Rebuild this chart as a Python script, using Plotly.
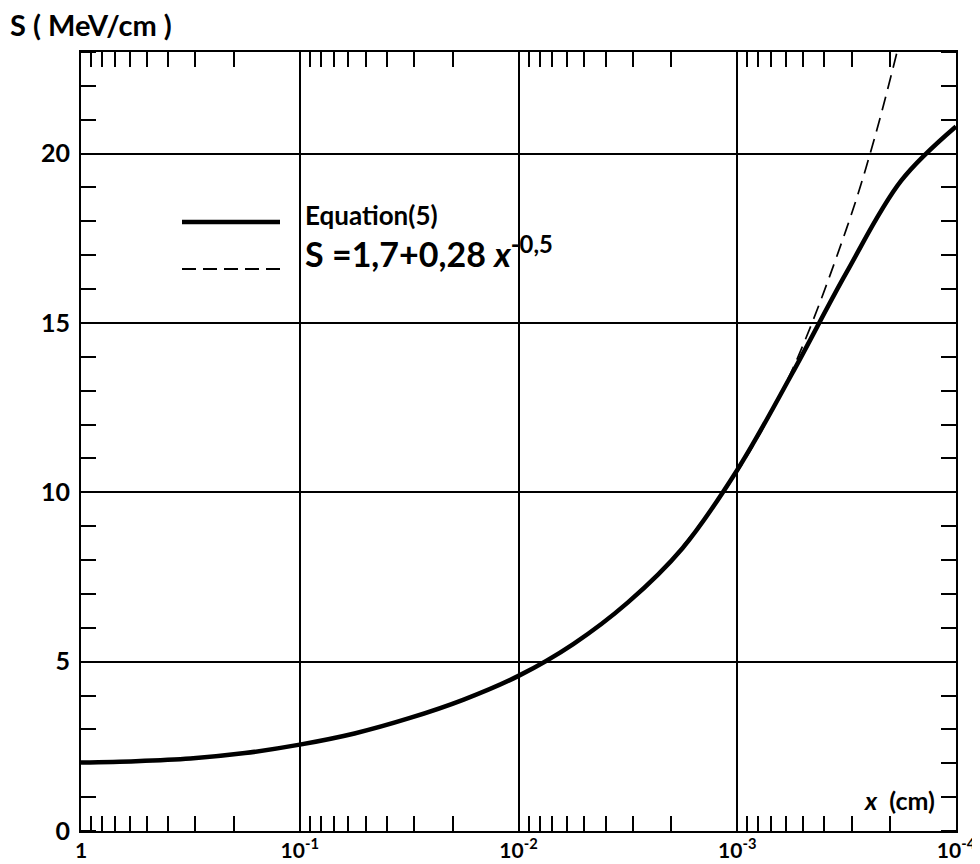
import plotly.graph_objects as go

# Data (x in cm, S in MeV/cm)
eq5_x = [1, 0.562, 0.316, 0.178, 0.1, 0.0562, 0.0316, 0.0178, 0.01, 0.00562,
         0.00316, 0.00178, 0.001, 0.000562, 0.000316, 0.000178, 0.0001]
eq5_s = [2.02, 2.06, 2.14, 2.30, 2.55, 2.88, 3.33, 3.88, 4.58, 5.52,
         6.75, 8.35, 10.66, 13.5, 16.5, 19.2, 20.8]

fit_x = [0.00178, 0.001, 0.000562, 0.000316, 0.000237, 0.000186]
fit_s = [8.4, 10.6, 13.6, 17.8, 20.4, 23.0]

x_tickvals = [1, 0.1, 0.01, 0.001, 0.0001]
x_ticktext = ["1", "10<sup>-1</sup>", "10<sup>-2</sup>", "10<sup>-3</sup>", "10<sup>-4</sup>"]
y_tickvals = [0, 5, 10, 15, 20]
y_ticktext = ["0", "5", "10", "15", "20"]

x_minor = [m * 10.0 ** e for e in range(-4, 0) for m in range(2, 10)]

FONT = "Lato"
OFF = 8  # page body margin
W, H = 980 - OFF, 864 - OFF
L, R, T, B = 81, 956, 52, 831  # plot box in window pixels
PW, PH = R - L, B - T


def px(xp):
    return (xp - L) / PW


def py(yp):
    return (B - yp) / PH


fig = go.Figure()
fig.add_trace(go.Scatter(x=eq5_x, y=eq5_s, mode="lines",
                         line=dict(color="black", width=4.5, shape="spline", smoothing=1.0),
                         showlegend=False, hoverinfo="skip"))
fig.add_trace(go.Scatter(x=fit_x, y=fit_s, mode="lines",
                         line=dict(color="black", width=1.7, dash="14px,8px", shape="spline"),
                         showlegend=False, hoverinfo="skip"))

fig.update_layout(
    width=W, height=H,
    margin=dict(l=L - OFF, r=W + OFF - R, t=T - OFF, b=H + OFF - B),
    paper_bgcolor="white", plot_bgcolor="white",
    font=dict(family=FONT, color="black", size=19),
    showlegend=False,
)
fig.update_xaxes(
    type="log", range=[0, -4], automargin=False,
    showline=True, linecolor="black", linewidth=2, mirror="allticks",
    showgrid=True, gridcolor="black", gridwidth=1.5,
    tickvals=x_tickvals, ticktext=x_ticktext, ticks="",
    ticklabelstandoff=0,
    tickfont=dict(family=FONT, size=21, weight="bold"),
    minor=dict(tickvals=x_minor, ticks="inside", ticklen=15, tickwidth=2, tickcolor="black", showgrid=False),
    zeroline=False,
)
fig.update_yaxes(
    range=[0, 23], automargin=False,
    showline=True, linecolor="black", linewidth=2, mirror="allticks",
    showgrid=True, gridcolor="black", gridwidth=1.5,
    tickvals=y_tickvals, ticktext=y_ticktext, ticks="",
    ticklabelstandoff=4,
    tickfont=dict(family=FONT, size=25, weight="bold"),
    minor=dict(dtick=1, ticks="inside", ticklen=15, tickwidth=2, tickcolor="black", showgrid=False),
    zeroline=False,
)

# Axis titles
fig.add_annotation(xref="paper", yref="paper", x=px(8), y=py(24), xanchor="left", yanchor="middle",
                   text="S ( MeV/cm )", showarrow=False, font=dict(family=FONT, size=29, weight="bold"))
fig.add_annotation(xref="paper", yref="paper", x=px(937), y=py(800), xanchor="right", yanchor="middle",
                   text="<i>x</i>  (cm)", showarrow=False, font=dict(family=FONT, size=25, weight="bold"))

# Hand-drawn legend
fig.add_shape(type="line", xref="paper", yref="paper", x0=px(182), x1=px(280),
              y0=py(222), y1=py(222), line=dict(color="black", width=4.5))
fig.add_shape(type="line", xref="paper", yref="paper", x0=px(182), x1=px(282),
              y0=py(269), y1=py(269), line=dict(color="black", width=1.8, dash="14px,7px"))
fig.add_annotation(xref="paper", yref="paper", x=px(303), y=py(215), xanchor="left", yanchor="middle",
                   text="Equation(5)", showarrow=False, font=dict(family=FONT, size=26, weight="bold"))
fig.add_annotation(xref="paper", yref="paper", x=px(303), y=py(252), xanchor="left", yanchor="middle",
                   text="S =1,7+0,28 <i>x</i><sup>-0,5</sup>", showarrow=False,
                   font=dict(family=FONT, size=34, weight="bold"))

fig.write_html("out.html")
